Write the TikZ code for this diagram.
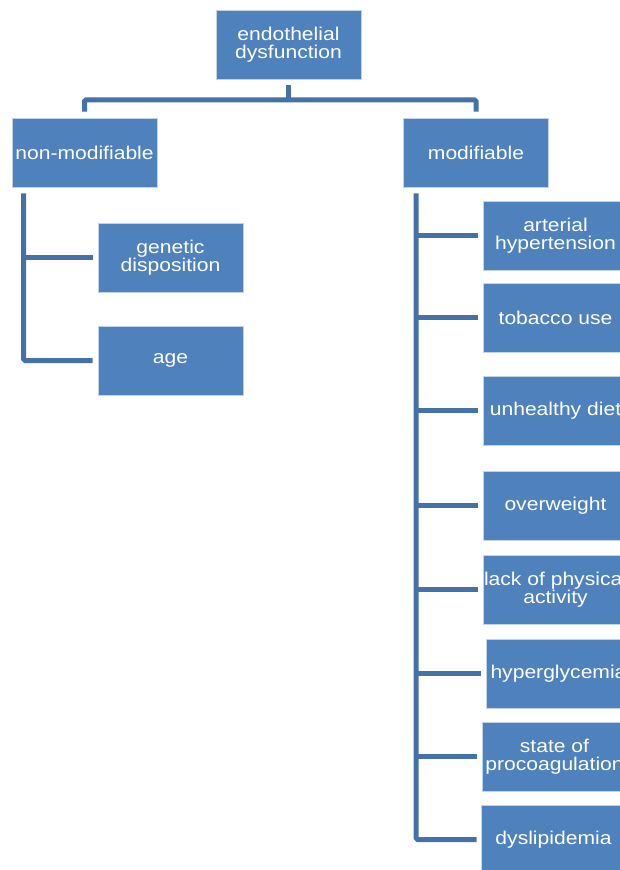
\documentclass[tikz,border=0pt]{standalone}
\usepackage{fontspec}
\setmainfont[FakeStretch=1.14]{Liberation Sans}
\usepackage{xcolor}
\usetikzlibrary{positioning,calc}

\definecolor{boxblue}{HTML}{4F81BD}
\definecolor{lineblue}{HTML}{4472A8}

\begin{document}
\begin{tikzpicture}[
		x=1pt, y=-1pt,
		box/.style={rectangle, fill=boxblue, draw=white!65!boxblue, line width=0.7pt,
			minimum width=145pt, minimum height=69pt, inner sep=1pt,
			text=white, align=center, font=\fontsize{18.5}{18.5}\selectfont},
		conn/.style={draw=lineblue, line width=5pt, rounded corners=1.5pt},
	]
	\useasboundingbox (0,0) rectangle (620,870);

	% top and the two groups
	\node[box] (top) at (288.5,44.5) {endothelial\\dysfunction};
	\node[box] (nonmod) at (84.5,152.5) {non-modifiable};
	\node[box] (mod) at (476,152.5) {modifiable};

	% non-modifiable factors
	\node[box] (genetic) at (170.5,257.5) {genetic\\disposition};
	\node[box] (age) at (170.5,360.5) {age};

	% modifiable factors
	\node[box] (arterial) at (555.5,235.5) {arterial\\hypertension};
	\node[box] (tobacco) at (555.5,317.5) {tobacco use};
	\node[box] (diet) at (555.5,410.5) {unhealthy diet};
	\node[box] (overweight) at (555.5,505.5) {overweight};
	\node[box] (inactivity) at (555.5,589.5) {lack of physical\\activity};
	\node[box] (hyperglyc) at (558.5,673.5) {hyperglycemia};
	\node[box] (procoag) at (554.5,756.5) {state of\\procoagulation};
	\node[box] (dyslip) at (553.5,839.5) {dyslipidemia};

	% connectors
	\draw[conn] ([yshift=-6pt]top.south) -- ([yshift=-20.5pt]top.south);
	\draw[conn] ([yshift=6pt]nonmod.north) |- ([yshift=-20.5pt]top.south) -| ([yshift=6pt]mod.north);

	\coordinate (lroot) at ([xshift=12pt,yshift=-6pt]nonmod.south west);
	\draw[conn] (lroot) |- ([xshift=-5pt]age.west);
	\draw[conn] (lroot |- genetic.west) -- ([xshift=-5pt]genetic.west);

	\coordinate (rroot) at ([xshift=13pt,yshift=-6pt]mod.south west);
	\draw[conn] (rroot) |- ([xshift=-4pt]dyslip.west);
	\foreach \n in {arterial,tobacco,diet,overweight,inactivity,hyperglyc,procoag}
		\draw[conn] (rroot |- \n.west) -- ([xshift=-5pt]\n.west);

\end{tikzpicture}
\end{document}
